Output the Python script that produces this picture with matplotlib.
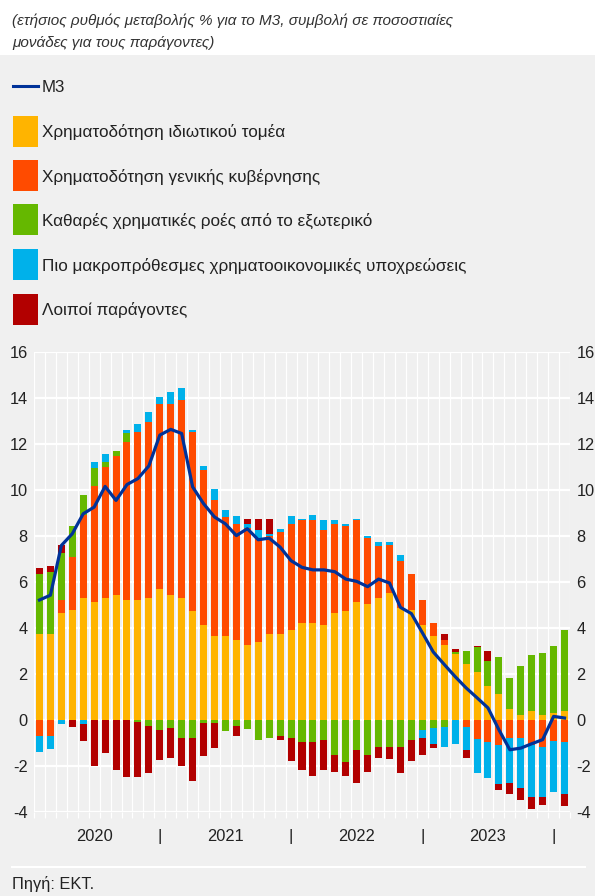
import numpy as np
import matplotlib
matplotlib.use("Agg")
import matplotlib.pyplot as plt
from matplotlib.patches import Rectangle
from matplotlib.lines import Line2D

plt.rcParams['font.family'] = ['Liberation Sans', 'DejaVu Sans']

# ---------------- data (Jan 2020 - Jan 2024, monthly) ----------------
months = list(range(49))

private_sector = [3.74, 3.74, 4.66, 4.79, 5.31, 5.14, 5.31, 5.44, 5.23, 5.23, 5.31, 5.71, 5.44,
                  5.31, 4.75, 4.13, 3.65, 3.65, 3.48, 3.26, 3.39, 3.74, 3.74, 3.92, 4.22,
                  4.22, 4.13, 4.66, 4.75, 5.14, 5.05, 5.31, 5.53, 4.88, 4.79, 4.13, 3.65,
                  3.26, 2.87, 2.43, 2.08, 1.51, 1.16, 0.51, 0.22, 0.42, 0.22, 0.31, 0.42]
government = [-0.70, -0.70, 0.57, 2.31, 3.63, 5.03, 5.72, 6.03, 6.89, 7.29, 7.66, 8.06, 8.33,
              8.62, 7.80, 6.77, 5.94, 5.21, 5.04, 5.11, 4.54, 4.29, 4.45, 4.60, 4.47,
              4.47, 4.15, 3.86, 3.68, 3.55, 2.88, 2.27, 2.11, 2.06, 1.57, 1.10, 0.57,
              0.22, 0.00, -0.31, -0.83, -0.96, -1.09, -0.79, -0.79, -1.09, -1.14, -0.92, -0.96]
external = [2.62, 2.71, 2.05, 1.36, 0.87, 0.82, 0.19, 0.26, 0.35, -0.06, -0.26, -0.44, -0.35,
            -0.79, -0.79, -0.13, -0.13, -0.48, -0.26, -0.39, -0.87, -0.79, -0.70, -0.79, -0.96,
            -0.96, -0.87, -1.53, -1.83, -1.27, -1.53, -1.18, -1.18, -1.18, -0.87, -0.44, -0.35,
            -0.31, 0.09, 0.57, 1.09, 1.05, 1.58, 1.35, 2.14, 2.40, 2.69, 2.91, 3.50]
longer_term = [-0.70, -0.54, -0.15, 0.00, -0.15, 0.22, 0.34, 0.00, 0.13, 0.35, 0.42, 0.28, 0.49,
               0.51, 0.06, 0.17, 0.48, 0.29, 0.35, 0.15, 0.35, 0.07, 0.13, 0.35, 0.07,
               0.25, 0.41, 0.17, 0.09, 0.07, 0.10, 0.17, 0.12, 0.25, 0.00, -0.35, -0.70,
               -0.83, -1.05, -0.96, -1.44, -1.57, -1.66, -1.92, -2.14, -2.23, -2.18, -2.18, -2.23]
other = [0.26, 0.26, 0.35, -0.31, -0.73, -1.98, -1.40, -2.18, -2.45, -2.39, -2.01, -1.27, -1.27,
         -1.18, -1.83, -1.44, -1.09, 0.00, -0.44, 0.25, 0.48, 0.65, -0.17, -1.00, -1.18,
         -1.48, -1.27, -0.70, -0.61, -1.44, -0.70, -0.44, -0.52, -1.09, -0.92, -0.74, -0.17,
         0.26, 0.13, -0.35, 0.04, 0.44, -0.26, -0.48, -0.52, -0.52, -0.35, 0.00, -0.52]
m3 = [5.23, 5.44, 7.60, 8.11, 8.98, 9.27, 10.17, 9.56, 10.25, 10.51, 11.06, 12.40, 12.65,
      12.47, 10.15, 9.42, 8.84, 8.54, 8.03, 8.33, 7.85, 7.92, 7.53, 6.94, 6.65,
      6.54, 6.54, 6.46, 6.14, 6.04, 5.81, 6.14, 5.97, 4.91, 4.64, 3.81, 2.97,
      2.43, 1.90, 1.41, 0.98, 0.54, -0.41, -1.28, -1.21, -1.02, -0.84, 0.17, 0.10]

series_names = ["Χρηματοδότηση ιδιωτικού τομέα",
                "Χρηματοδότηση γενικής κυβέρνησης",
                "Καθαρές χρηματικές ροές από το εξωτερικό",
                "Πιο μακροπρόθεσμες χρηματοοικονομικές υποχρεώσεις",
                "Λοιποί παράγοντες"]
line_name = "M3"
year_labels = ["2020", "2021", "2022", "2023"]
year_label_pos = [5, 17, 29, 41]
separator_pos = [11, 23, 35, 47]
y_ticks = list(range(-4, 17, 2))

title_text = "(ετήσιος ρυθμός μεταβολής % για το M3, συμβολή σε ποσοστιαίες\nμονάδες για τους παράγοντες)"
source_text = "Πηγή: ΕΚΤ."

colors = ["#FFB400", "#FF4B00", "#65B800", "#00B1EA", "#B20000"]
line_color = "#003299"
bg = "#F0F0F0"
txt = "#222222"

# ---------------- figure ----------------
W, H = 595, 896
fig = plt.figure(figsize=(W / 100, H / 100), dpi=100, facecolor=bg)

def fx(x):
    return x / W

def fy(y):
    return 1 - y / H

# white header band
fig.add_artist(Rectangle((0, fy(55)), 1, 1 - fy(55), transform=fig.transFigure,
                         facecolor="white", edgecolor="none", zorder=0))
fig.text(fx(12), fy(21), title_text.split("\n")[0], fontsize=11.0, style="italic",
         color="#333333", va="center", ha="left")
fig.text(fx(12), fy(43), title_text.split("\n")[1], fontsize=11.0, style="italic",
         color="#333333", va="center", ha="left")

# legend
fig.add_artist(Line2D([fx(12.7), fx(37.7)], [fy(86), fy(86)], transform=fig.transFigure,
                      color=line_color, lw=2.2))
fig.text(fx(42), fy(87), line_name, fontsize=12.2, color=txt, va="center", ha="left")
leg_y = [131.5, 175.8, 220.0, 264.5, 309.0]
for name, c, yc in zip(series_names, colors, leg_y):
    fig.add_artist(Rectangle((fx(12.7), fy(yc + 15.5)), fx(25), 31 / H,
                             transform=fig.transFigure, facecolor=c, edgecolor="none"))
    fig.text(fx(42), fy(yc + 1), name, fontsize=12.3, color=txt, va="center", ha="left")

# axes
ax = fig.add_axes([fx(34), fy(812.3), fx(570) - fx(34), fy(352.3) - fy(812.3)])
ax.set_facecolor(bg)
for s in ax.spines.values():
    s.set_visible(False)

x = np.array(months)
series = [private_sector, government, external, longer_term, other]
pos_base = np.zeros(len(x))
neg_base = np.zeros(len(x))
for vals, c in zip(series, colors):
    v = np.array(vals)
    pos = np.where(v > 0, v, 0)
    neg = np.where(v < 0, v, 0)
    ax.bar(x, pos, bottom=pos_base, width=0.64, color=c, linewidth=0, zorder=3)
    ax.bar(x, neg, bottom=neg_base, width=0.64, color=c, linewidth=0, zorder=3)
    pos_base += pos
    neg_base += neg

ax.plot(x, m3, color=line_color, lw=2.3, zorder=4, solid_joinstyle="round")

ax.set_xlim(-0.5, len(x) - 0.5)
ax.set_ylim(-4, 16)
ax.set_yticks(y_ticks)
ax.set_yticklabels([str(t) for t in y_ticks])
ax.tick_params(axis="y", length=0, labelsize=11.8, labelcolor=txt,
               labelleft=True, labelright=True, pad=4.5)
ax.grid(axis="y", which="major", color="white", lw=1.6, zorder=1)

# month boundaries: vertical grid + small ticks
ax.set_xticks(np.arange(len(x) + 1) - 0.5, minor=True)
ax.grid(axis="x", which="minor", color="white", lw=0.9, zorder=1)
ax.tick_params(axis="x", which="minor", length=4, width=0.9, color="white", direction="out")

tick_pos = sorted(year_label_pos + separator_pos)
tick_lab = []
for p in tick_pos:
    if p in year_label_pos:
        tick_lab.append(year_labels[year_label_pos.index(p)])
    else:
        tick_lab.append("|")
ax.set_xticks(tick_pos)
ax.set_xticklabels(tick_lab)
ax.tick_params(axis="x", which="major", length=0, labelsize=11.8, labelcolor=txt, pad=12)

# bottom rule and source
fig.add_artist(Line2D([fx(12), fx(585)], [fy(867), fy(867)], transform=fig.transFigure,
                      color="white", lw=1.5))
fig.text(fx(12), fy(884), source_text, fontsize=11.8, color=txt, va="center", ha="left")

fig.savefig("out.png", dpi=100, facecolor=bg)
